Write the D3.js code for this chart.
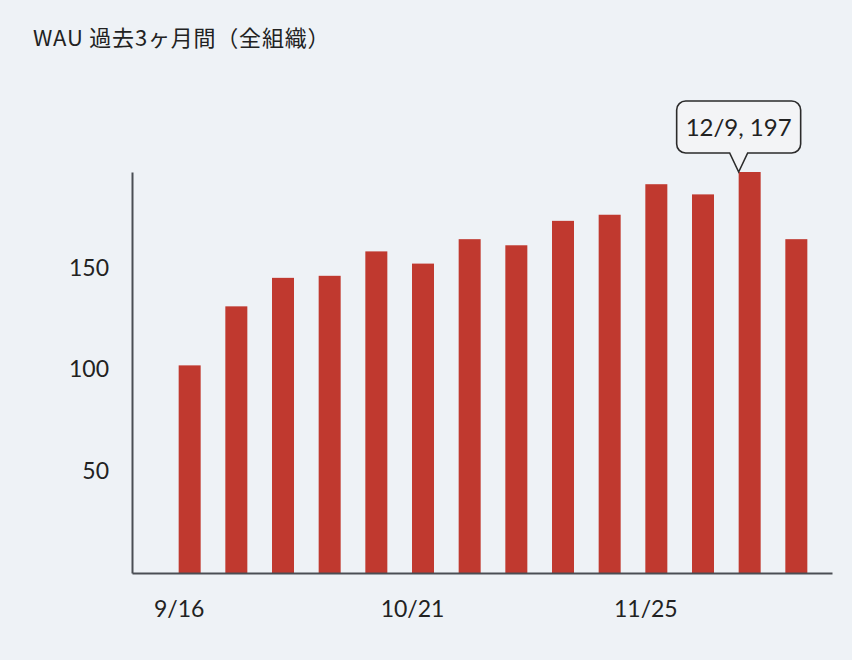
<!DOCTYPE html>
<html>
<head>
<meta charset="utf-8">
<script src="https://cdn.jsdelivr.net/npm/d3@7"></script>
<style>
  html, body { margin: 0; padding: 0; background: #eef2f6; }
  svg { display: block; }
</style>
</head>
<body>
<div id="chart"></div>
<script>
// 週ごとのアクティブユーザー数
const weeks = ['2024-09-16', '2024-09-23', '2024-09-30', '2024-10-07', '2024-10-14',
  '2024-10-21', '2024-10-28', '2024-11-04', '2024-11-11', '2024-11-18',
  '2024-11-25', '2024-12-02', '2024-12-09', '2024-12-16'];
const wau = [102, 131, 145, 146, 158, 152, 164, 161, 173, 176, 191, 186, 197, 164];
const xTickDates = ['2024-09-16', '2024-10-21', '2024-11-25'];
const yTicks = [50, 100, 150];
const highlightIndex = 12;

const width = 852, height = 660;
const margin = { top: 172, right: 20, bottom: 87, left: 132 };
const parse = d3.timeParse('%Y-%m-%d');
const fmt = d3.timeFormat('%-m/%-d');

const data = weeks.map((w, i) => ({ date: parse(w), value: wau[i] }));

const svg = d3.select('#chart').append('svg')
  .attr('width', width)
  .attr('height', height);

svg.append('text')
  .attr('x', 33)
  .attr('y', 46)
  .style('font-family', '"Noto Sans CJK JP", "Noto Sans", sans-serif')
  .style('font-size', '22px')
  .style('letter-spacing', '0.8px')
  .style('fill', '#222')
  .text('WAU 過去3ヶ月間（全組織）');

// x は時間軸（前後1週間の余白）
const x = d3.scaleTime()
  .domain([d3.timeDay.offset(data[0].date, -7), d3.timeDay.offset(data[data.length - 1].date, 7)])
  .range([margin.left, width - margin.right]);

const y = d3.scaleLinear()
  .domain([0, d3.max(wau)])
  .range([height - margin.bottom, margin.top]);

const barWidth = 22;

svg.append('g')
  .selectAll('rect')
  .data(data)
  .join('rect')
  .attr('x', d => x(d.date))
  .attr('y', d => y(d.value))
  .attr('width', barWidth)
  .attr('height', d => y(0) - y(d.value))
  .attr('fill', '#c0392f');

const axisColor = '#4a4e54';
const labelFont = 'Lato, "Open Sans", sans-serif';

// x 軸
const xAxis = svg.append('g')
  .attr('transform', `translate(0,${y(0)})`)
  .call(d3.axisBottom(x)
    .tickValues(xTickDates.map(parse))
    .tickFormat(fmt)
    .tickSize(0)
    .tickPadding(28));
xAxis.select('.domain').attr('stroke', axisColor).attr('stroke-width', 2);
xAxis.selectAll('text')
  .style('font-family', labelFont)
  .style('font-size', '23px')
  .style('fill', '#222');

// y 軸
const yAxis = svg.append('g')
  .attr('transform', `translate(${margin.left},0)`)
  .call(d3.axisLeft(y)
    .tickValues(yTicks)
    .tickSize(0)
    .tickPadding(23));
yAxis.select('.domain').attr('stroke', axisColor).attr('stroke-width', 2);
yAxis.selectAll('text')
  .style('font-family', labelFont)
  .style('font-size', '23px')
  .style('fill', '#222');

// ツールチップ
const hd = data[highlightIndex];
const tipX = x(hd.date);
const tipY = y(hd.value);
const boxW = 124, boxH = 52, r = 9, arrowH = 19, arrowHalf = 9;
const bx = tipX - boxW / 2, by = tipY - arrowH - boxH;

const path = d3.path();
path.moveTo(bx + r, by);
path.lineTo(bx + boxW - r, by);
path.arcTo(bx + boxW, by, bx + boxW, by + r, r);
path.lineTo(bx + boxW, by + boxH - r);
path.arcTo(bx + boxW, by + boxH, bx + boxW - r, by + boxH, r);
path.lineTo(tipX + arrowHalf, by + boxH);
path.lineTo(tipX, tipY);
path.lineTo(tipX - arrowHalf, by + boxH);
path.lineTo(bx + r, by + boxH);
path.arcTo(bx, by + boxH, bx, by + boxH - r, r);
path.lineTo(bx, by + r);
path.arcTo(bx, by, bx + r, by, r);
path.closePath();

const tip = svg.append('g');
tip.append('path')
  .attr('d', path.toString())
  .attr('fill', '#f3f4f6')
  .attr('stroke', '#2b2b2b')
  .attr('stroke-width', 1.6);
tip.append('text')
  .attr('x', tipX)
  .attr('y', by + boxH / 2 + 9)
  .attr('text-anchor', 'middle')
  .style('font-family', labelFont)
  .style('font-size', '24px')
  .style('fill', '#222')
  .text(`${fmt(hd.date)}, ${hd.value}`);
</script>
</body>
</html>
